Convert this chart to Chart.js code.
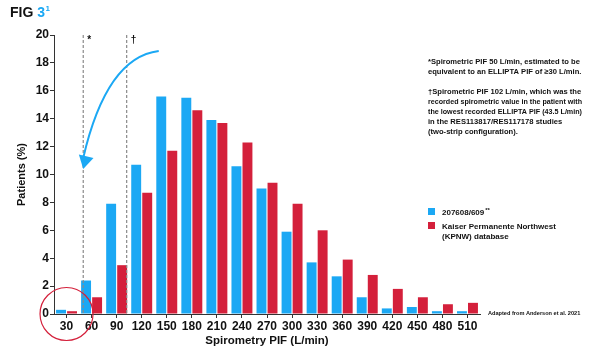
<!DOCTYPE html>
<html>
<head>
<meta charset="utf-8">
<script src="https://cdn.jsdelivr.net/npm/chart.js@4"></script>
<style>
  html, body { margin: 0; padding: 0; background: #fff; }
  #wrap { width: 610px; height: 348px; }
</style>
</head>
<body>
<div id="wrap"><canvas id="mycanvas" width="610" height="348"></canvas></div>
<script>
// spirometry PIF bins (L/min)
var pifLabels = ['30', '60', '90', '120', '150', '180', '210', '240', '270', '300', '330', '360', '390', '420', '450', '480', '510'];
// patients (%) per bin
var trialValues = [0.3, 2.4, 7.9, 10.7, 15.6, 15.5, 13.9, 10.6, 9.0, 5.9, 3.7, 2.7, 1.2, 0.4, 0.5, 0.2, 0.2];
var kpnwValues = [0.2, 1.2, 3.5, 8.7, 11.7, 14.6, 13.7, 12.3, 9.4, 7.9, 6.0, 3.9, 2.8, 1.8, 1.2, 0.7, 0.8];
var seriesNames = ['207608/609', 'Kaiser Permanente Northwest'];
var seriesNotes = ['**', '(KPNW) database'];
// dashed reference lines (L/min) and their footnote symbols
var markerPif = [50, 102];
var markerSymbols = ['*', '\u2020'];

var footnotes = [
    '*Spirometric PIF 50 L/min, estimated to be',
    'equivalent to an ELLIPTA PIF of \u226530 L/min.',
    '',
    '\u2020Spirometric PIF 102 L/min, which was the',
    'recorded spirometric value in the patient with',
    'the lowest recorded ELLIPTA PIF (43.5 L/min)',
    'in the RES113817/RES117178 studies',
    '(two-strip configuration).'
];

var BLUE = '#1ba8f4';
var RED = '#d4203b';
var FONT = "'Liberation Sans', Arial, sans-serif";

function pifToIndex(pif) {
    return (pif - 30) / 30;
}

var extras = {
    id: 'extras',
    afterDraw: function(chart) {
        var ctx = chart.ctx;
        var x = chart.scales.x;
        var y = chart.scales.y;
        ctx.save();

        // title
        ctx.textBaseline = 'alphabetic';
        ctx.textAlign = 'left';
        ctx.fillStyle = '#111';
        ctx.font = 'bold 14px ' + FONT;
        ctx.fillText('FIG', 10, 17);
        var w = ctx.measureText('FIG ').width;
        ctx.fillStyle = BLUE;
        ctx.fillText('3', 10 + w, 17);
        var w2 = ctx.measureText('3').width;
        ctx.font = 'bold 8px ' + FONT;
        ctx.fillText('1', 10 + w + w2 + 0.5, 11);

        // dashed markers
        ctx.strokeStyle = '#8a8a8a';
        ctx.lineWidth = 1.2;
        ctx.setLineDash([3, 2]);
        for (var i = 0; i < markerPif.length; i++) {
            var px = x.getPixelForValue(pifToIndex(markerPif[i]));
            ctx.beginPath();
            ctx.moveTo(px, y.getPixelForValue(20));
            ctx.lineTo(px, y.getPixelForValue(0));
            ctx.stroke();
            ctx.fillStyle = '#111';
            ctx.font = 'bold 10px ' + FONT;
            ctx.fillText(markerSymbols[i], px + 4, y.getPixelForValue(20) + 8);
        }
        ctx.setLineDash([]);

        // curved arrow from the 102 marker towards the 50 marker
        var p0 = { x: x.getPixelForValue(3.68), y: y.getPixelForValue(18.85) };
        var p1 = { x: x.getPixelForValue(1.6), y: y.getPixelForValue(18.4) };
        var tip = { x: x.getPixelForValue(pifToIndex(markerPif[0])), y: y.getPixelForValue(10.4) };
        var p2 = { x: tip.x, y: tip.y - 11 };
        ctx.strokeStyle = BLUE;
        ctx.lineWidth = 2;
        ctx.beginPath();
        ctx.moveTo(p0.x, p0.y);
        ctx.quadraticCurveTo(p1.x, p1.y, p2.x, p2.y);
        ctx.stroke();
        var ang = Math.atan2(p2.y - p1.y, p2.x - p1.x);
        ctx.fillStyle = BLUE;
        ctx.beginPath();
        ctx.moveTo(tip.x, tip.y);
        ctx.lineTo(tip.x - 13 * Math.cos(ang) + 7.5 * Math.sin(ang), tip.y - 13 * Math.sin(ang) - 7.5 * Math.cos(ang));
        ctx.lineTo(tip.x - 13 * Math.cos(ang) - 7.5 * Math.sin(ang), tip.y - 13 * Math.sin(ang) + 7.5 * Math.cos(ang));
        ctx.closePath();
        ctx.fill();

        // red circle around the lowest bin
        ctx.strokeStyle = RED;
        ctx.lineWidth = 1.2;
        ctx.beginPath();
        ctx.arc(x.getPixelForValue(0), y.getPixelForValue(0), 26.5, 0, Math.PI * 2);
        ctx.stroke();

        // footnotes
        ctx.fillStyle = '#111';
        ctx.font = 'bold 7.6px ' + FONT;
        for (var j = 0; j < footnotes.length; j++) {
            if (footnotes[j]) ctx.fillText(footnotes[j], 428, 64 + j * 10, 154);
        }

        // legend
        var colors = [BLUE, RED];
        ctx.font = 'bold 8px ' + FONT;
        for (var k = 0; k < seriesNames.length; k++) {
            var ly = 208 + k * 14;
            ctx.fillStyle = colors[k];
            ctx.fillRect(428, ly, 7, 7);
            ctx.fillStyle = '#111';
            ctx.font = 'bold 8px ' + FONT;
            ctx.fillText(seriesNames[k], 442, ly + 7);
            if (k === 0) {
                var nw = ctx.measureText(seriesNames[k]).width;
                ctx.font = 'bold 6px ' + FONT;
                ctx.fillText(seriesNotes[k], 442 + nw + 1, ly + 4);
            } else {
                ctx.fillText(seriesNotes[k], 442, ly + 17);
            }
        }

        ctx.font = 'bold 5.6px ' + FONT;
        ctx.fillText('Adapted from Anderson et al. 2021', 488, 315);
        ctx.restore();
    }
};

var ctx = document.getElementById('mycanvas');

var chartdata = {
    labels: pifLabels,
    datasets: [
        {
            label: seriesNames[0],
            backgroundColor: BLUE,
            data: trialValues,
            categoryPercentage: 0.88,
            barPercentage: 0.9
        },
        {
            label: seriesNames[1],
            backgroundColor: RED,
            data: kpnwValues,
            categoryPercentage: 0.88,
            barPercentage: 0.9
        }
    ]
};

var barGraph = new Chart(ctx, {
    type: 'bar',
    data: chartdata,
    plugins: [extras],
    options: {
        responsive: false,
        animation: false,
        events: [],
        layout: { padding: { left: 15, right: 130, top: 35, bottom: 0 } },
        plugins: {
            legend: { display: false },
            tooltip: { enabled: false }
        },
        scales: {
            x: {
                afterFit: function(scale) { scale.height = 34; },
                grid: { display: true, drawOnChartArea: false, offset: false, tickLength: 4, color: '#333' },
                border: { color: '#333', width: 1 },
                ticks: { color: '#111', padding: 1, font: { family: FONT, size: 12, weight: 'bold' }, maxRotation: 0, autoSkip: false },
                title: { display: true, text: 'Spirometry PIF (L/min)', color: '#111', font: { family: FONT, size: 11.5, weight: 'bold' }, padding: 0 }
            },
            y: {
                min: 0,
                max: 20,
                afterFit: function(scale) { scale.width = 39; },
                grid: { display: true, drawOnChartArea: false, tickLength: 4, color: '#333' },
                border: { color: '#333', width: 1 },
                ticks: { stepSize: 2, color: '#111', padding: 1, font: { family: FONT, size: 12, weight: 'bold' } },
                title: { display: true, text: 'Patients (%)', color: '#111', font: { family: FONT, size: 11, weight: 'bold' }, padding: 0 }
            }
        }
    }
});
</script>
</body>
</html>
